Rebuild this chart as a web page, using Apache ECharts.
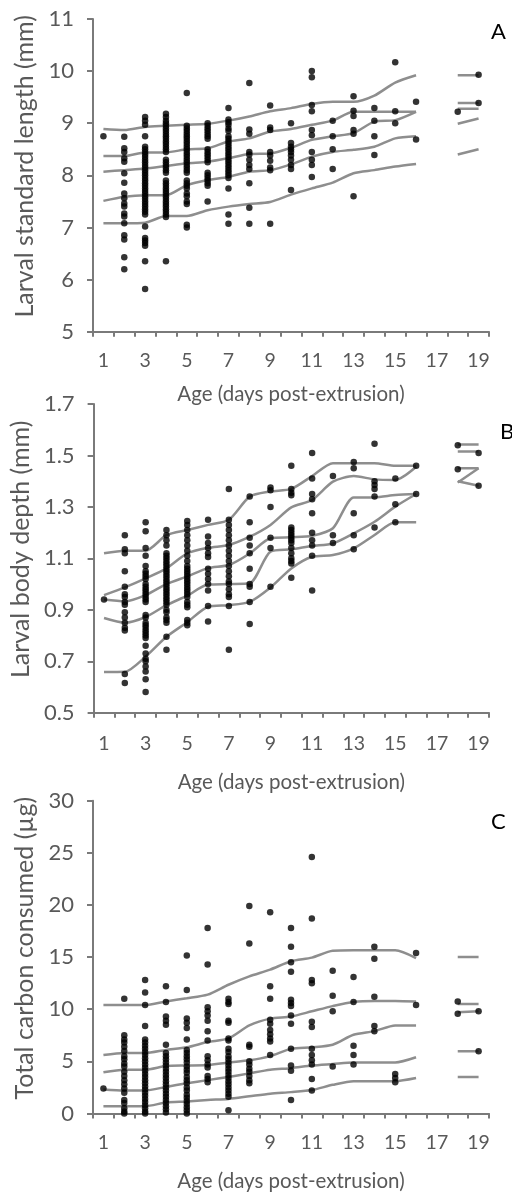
<!DOCTYPE html>
<html>
<head>
<meta charset="utf-8">
<script src="https://cdn.jsdelivr.net/npm/echarts@6/dist/echarts.min.js"></script>
<style>
html,body{margin:0;padding:0;background:#fff;}
#chart{width:512px;height:1197px;}
</style>
</head>
<body>
<div id="chart"></div>
<script>
// Category axis (age in days post-extrusion)
const ageCats = ['1','2','3','4','5','6','7','8','9','10','11','12','13','14','15','16','17','18','19'];
const xTitle = 'Age (days post-extrusion)';

// ---------- Panel A: Larval standard length (mm) ----------
const aTicks = {min: 5, max: 11, interval: 1};
const aQ95 = [8.89, 8.87, 8.93, 8.95, 8.97, 8.99, 9.05, 9.13, 9.23, 9.29, 9.37, 9.41, 9.41, 9.53, 9.78, 9.92];
const aQ75 = [8.37, 8.37, 8.44, 8.44, 8.50, 8.52, 8.65, 8.71, 8.84, 8.89, 8.97, 9.05, 9.22, 9.22, 9.22, 9.22];
const aQ50 = [8.07, 8.10, 8.13, 8.18, 8.23, 8.26, 8.33, 8.41, 8.42, 8.53, 8.68, 8.75, 8.81, 9.03, 9.06, 9.22];
const aQ25 = [7.51, 7.59, 7.62, 7.62, 7.81, 7.91, 7.97, 8.07, 8.10, 8.21, 8.36, 8.45, 8.49, 8.55, 8.71, 8.75];
const aQ05 = [7.08, 7.08, 7.09, 7.22, 7.22, 7.33, 7.40, 7.45, 7.49, 7.63, 7.75, 7.86, 8.04, 8.10, 8.17, 8.22];
const aTails = [[9.92, 9.92], [9.39, 9.39], [9.28, 9.28], [8.99, 9.09], [8.40, 8.50]];
const aDots = [
  [8.75],
  [8.74, 8.52, 8.45, 8.33, 8.26, 8.04, 7.86, 7.65, 7.56, 7.46, 7.40, 7.27, 7.21, 7.08, 6.85, 6.77, 6.43, 6.20],
  [9.12, 9.05, 8.97, 8.75, 8.55, 8.5, 8.45, 8.4, 8.35, 8.3, 8.25, 8.2, 8.15, 8.1, 8.05, 8.0, 7.95, 7.9, 7.85, 7.8, 7.75, 7.7, 7.65, 7.6, 7.55, 7.5, 7.45, 7.4, 7.35, 7.3, 7.25, 7.02, 6.8, 6.75, 6.7, 6.65, 6.35, 5.82],
  [9.18, 9.12, 9.05, 9.0, 8.95, 8.9, 8.85, 8.8, 8.75, 8.7, 8.65, 8.6, 8.55, 8.5, 8.45, 8.3, 8.25, 8.2, 8.15, 8.1, 8.05, 7.9, 7.85, 7.8, 7.75, 7.7, 7.65, 7.6, 7.55, 7.5, 7.45, 7.4, 7.35, 7.3, 7.25, 7.2, 6.35],
  [9.58, 8.95, 8.9, 8.85, 8.8, 8.75, 8.7, 8.65, 8.6, 8.55, 8.5, 8.45, 8.4, 8.35, 8.3, 8.25, 8.2, 8.15, 8.1, 8.05, 7.9, 7.85, 7.8, 7.75, 7.65, 7.6, 7.5, 7.45, 7.05, 7.0],
  [9.0, 8.95, 8.9, 8.85, 8.8, 8.75, 8.7, 8.5, 8.45, 8.4, 8.35, 8.3, 8.25, 8.05, 8.0, 7.95, 7.9, 7.85, 7.8, 7.5],
  [9.29, 9.07, 9.02, 8.97, 8.9, 8.85, 8.75, 8.7, 8.65, 8.6, 8.55, 8.5, 8.45, 8.4, 8.35, 8.3, 8.25, 8.2, 8.15, 8.1, 8.05, 8.0, 7.95, 7.75, 7.25, 7.07],
  [9.77, 8.88, 8.8, 8.45, 8.4, 8.3, 8.2, 8.12, 7.85, 7.38, 7.07],
  [9.34, 8.92, 8.87, 8.45, 8.38, 8.28, 8.15, 8.1, 7.07],
  [9.0, 8.62, 8.55, 8.5, 8.45, 8.38, 8.3, 8.2, 8.12, 7.72],
  [10.0, 9.88, 9.35, 9.23, 8.87, 8.77, 8.45, 8.3, 8.2, 7.97],
  [9.05, 8.75, 8.5, 8.12],
  [9.52, 9.24, 9.14, 8.87, 8.8, 7.6],
  [9.29, 9.05, 8.75, 8.39],
  [10.17, 9.23, 9.0],
  [9.41, 8.69],
  [],
  [9.22],
  [9.93, 9.39]
];

// ---------- Panel B: Larval body depth (mm) ----------
const bTicks = {min: 0.5, max: 1.7, interval: 0.2};
const bQ95 = [1.12, 1.13, 1.13, 1.19, 1.21, 1.23, 1.25, 1.34, 1.36, 1.37, 1.42, 1.47, 1.47, 1.47, 1.46, 1.46];
const bQ75 = [0.957, 0.987, 1.022, 1.061, 1.119, 1.141, 1.152, 1.184, 1.23, 1.298, 1.327, 1.398, 1.42, 1.407, 1.405, 1.456];
const bQ50 = [0.94, 0.933, 0.957, 1.0, 1.03, 1.062, 1.074, 1.119, 1.178, 1.182, 1.188, 1.217, 1.337, 1.337, 1.346, 1.35];
const bQ25 = [0.868, 0.85, 0.872, 0.918, 0.955, 0.998, 1.0, 1.003, 1.126, 1.135, 1.148, 1.158, 1.197, 1.242, 1.301, 1.35];
const bQ05 = [0.658, 0.659, 0.718, 0.795, 0.852, 0.912, 0.918, 0.931, 0.987, 1.061, 1.106, 1.113, 1.139, 1.191, 1.24, 1.24];
const bTails = [[1.543, 1.543], [1.515, 1.515], [1.45, 1.45], [1.395, 1.45], [1.40, 1.382]];
const bDots = [
  [0.94],
  [1.19, 1.135, 1.12, 1.05, 0.99, 0.96, 0.95, 0.93, 0.92, 0.89, 0.87, 0.85, 0.83, 0.82, 0.65, 0.615],
  [1.24, 1.205, 1.14, 1.11, 1.07, 1.05, 1.04, 1.03, 1.02, 1.0, 0.99, 0.98, 0.97, 0.96, 0.95, 0.94, 0.93, 0.88, 0.87, 0.85, 0.84, 0.83, 0.82, 0.81, 0.8, 0.79, 0.76, 0.73, 0.71, 0.7, 0.68, 0.66, 0.63, 0.58],
  [1.21, 1.19, 1.17, 1.15, 1.12, 1.11, 1.1, 1.09, 1.08, 1.07, 1.06, 1.05, 1.04, 1.03, 1.02, 1.01, 1.0, 0.99, 0.98, 0.97, 0.96, 0.95, 0.94, 0.93, 0.92, 0.9, 0.89, 0.87, 0.86, 0.85, 0.795, 0.745],
  [1.245, 1.23, 1.21, 1.19, 1.17, 1.15, 1.13, 1.11, 1.09, 1.07, 1.06, 1.05, 1.04, 1.03, 1.02, 1.01, 1.0, 0.99, 0.98, 0.97, 0.96, 0.95, 0.93, 0.92, 0.91, 0.86, 0.85, 0.84],
  [1.25, 1.185, 1.16, 1.14, 1.12, 1.105, 1.06, 1.04, 1.02, 1.0, 0.975, 0.915, 0.855],
  [1.37, 1.25, 1.23, 1.21, 1.19, 1.17, 1.15, 1.13, 1.11, 1.09, 1.07, 1.05, 1.03, 1.01, 1.0, 0.98, 0.96, 0.95, 0.915, 0.745],
  [1.34, 1.24, 1.18, 1.15, 1.12, 1.06, 1.0, 0.99, 0.93, 0.845],
  [1.375, 1.365, 1.30, 1.18, 1.14, 0.99],
  [1.46, 1.37, 1.355, 1.345, 1.22, 1.21, 1.2, 1.19, 1.18, 1.17, 1.16, 1.14, 1.12, 1.1, 1.09, 1.08, 1.025],
  [1.51, 1.41, 1.35, 1.33, 1.275, 1.2, 1.17, 1.15, 1.11, 0.975],
  [1.42, 1.19, 1.16],
  [1.475, 1.45, 1.275, 1.19, 1.135],
  [1.545, 1.40, 1.385, 1.37, 1.34, 1.22],
  [1.41, 1.31, 1.24],
  [1.46, 1.35],
  [],
  [1.54, 1.446],
  [1.51, 1.382]
];

// ---------- Panel C: Total carbon consumed (µg) ----------
const cTicks = {min: 0, max: 30, interval: 5};
const cQ95 = [10.4, 10.4, 10.4, 10.75, 11.05, 11.4, 12.35, 13.15, 13.8, 14.6, 14.95, 15.6, 15.65, 15.65, 15.65, 14.9];
const cQ75 = [5.6, 5.8, 5.8, 6.1, 6.35, 6.85, 7.2, 8.45, 9.1, 9.3, 9.8, 10.3, 10.7, 10.8, 10.8, 10.75];
const cQ50 = [3.95, 4.2, 4.2, 4.55, 4.6, 4.65, 4.9, 5.1, 5.5, 6.2, 6.35, 6.6, 7.55, 7.9, 8.45, 8.45];
const cQ25 = [2.3, 2.2, 2.2, 2.55, 2.9, 3.2, 3.5, 3.85, 4.2, 4.35, 4.6, 4.75, 4.9, 4.9, 4.9, 5.4];
const cQ05 = [0.7, 0.7, 0.7, 1.05, 1.15, 1.3, 1.4, 1.65, 1.9, 2.05, 2.25, 2.75, 3.1, 3.1, 3.1, 3.4];
const cTails = [[15.0, 15.0], [10.5, 10.5], [9.7, 9.8], [5.96, 5.96], [3.5, 3.5]];
const cDots = [
  [2.4],
  [11.0, 7.5, 7.1, 6.8, 6.4, 6.0, 5.5, 5.2, 4.8, 4.5, 4.0, 3.6, 3.2, 2.8, 2.4, 2.0, 1.3, 1.0, 0.5, 0.2, 0.0],
  [12.8, 11.6, 10.4, 8.4, 7.1, 6.8, 6.5, 6.2, 5.9, 5.6, 5.3, 5.0, 4.7, 4.4, 4.1, 3.8, 3.5, 3.2, 2.9, 2.6, 2.3, 2.0, 1.7, 1.4, 1.1, 0.8, 0.5, 0.2, 0.0],
  [12.2, 10.7, 9.3, 8.9, 8.5, 6.6, 5.8, 5.5, 5.2, 4.9, 4.6, 4.3, 4.0, 3.7, 3.4, 3.1, 2.8, 2.5, 2.2, 1.9, 1.6, 1.3, 1.0, 0.7, 0.4, 0.1],
  [15.15, 11.85, 9.1, 8.7, 8.2, 7.1, 6.1, 5.8, 5.5, 5.2, 4.9, 4.5, 4.2, 3.9, 3.5, 3.2, 2.9, 2.5, 2.2, 1.8, 1.5, 1.2, 0.9, 0.6, 0.3, 0.0],
  [17.8, 14.3, 10.2, 9.8, 9.4, 8.9, 7.9, 7.0, 5.5, 5.1, 4.7, 4.4, 3.6, 3.3, 3.0],
  [11.0, 10.7, 10.5, 8.9, 8.7, 7.2, 7.0, 6.2, 5.9, 5.5, 5.2, 4.9, 4.6, 4.3, 4.0, 3.7, 3.4, 3.1, 2.8, 2.5, 2.2, 1.9, 1.6, 0.3],
  [19.9, 16.3, 6.6, 6.4, 5.0, 4.7, 4.3, 4.0, 3.6, 3.2, 2.9],
  [19.3, 12.2, 11.0, 9.0, 8.6, 8.0, 7.6, 7.2, 6.9, 5.6],
  [17.8, 16.0, 14.5, 13.6, 10.9, 10.6, 10.3, 9.4, 8.6, 6.2, 4.6, 4.1, 1.3],
  [24.6, 18.7, 12.8, 12.5, 8.8, 8.3, 6.2, 5.6, 5.1, 4.7, 3.3, 2.2],
  [13.7, 11.3, 9.8, 4.5],
  [13.1, 10.7, 6.5, 5.6, 4.7],
  [16.0, 14.85, 11.2, 8.4, 7.9],
  [3.8, 3.4, 3.0],
  [15.4, 10.4],
  [],
  [10.75, 9.57],
  [9.8, 5.96]
];

// ---------- Build chart ----------
const FONT = 'Lato';
const AXIS_COLOR = '#7a7a7a';
const TEXT_COLOR = '#595959';
const LINE_COLOR = '#8e8e8e';

const panels = [
  {name: 'Larval standard length (mm)', ticks: aTicks, q: [aQ95, aQ75, aQ50, aQ25, aQ05], tails: aTails, dots: aDots,
   grid: {left: 93, top: 19, width: 396, height: 312.7}, labelMargin: 19, nameGap: 52, dec: 0},
  {name: 'Larval body depth (mm)', ticks: bTicks, q: [bQ95, bQ75, bQ50, bQ25, bQ05], tails: bTails, dots: bDots,
   grid: {left: 93, top: 404, width: 396, height: 308.7}, labelMargin: 21, nameGap: 59, dec: 1},
  {name: 'Total carbon consumed (µg)', ticks: cTicks, q: [cQ95, cQ75, cQ50, cQ25, cQ05], tails: cTails, dots: cDots,
   grid: {left: 93, top: 800.7, width: 396, height: 312.8}, labelMargin: 19, nameGap: 57, dec: 0}
];

const grids = [], xAxes = [], yAxes = [], series = [];
panels.forEach((p, gi) => {
  grids.push(Object.assign({containLabel: false}, p.grid));
  xAxes.push({
    type: 'category', gridIndex: gi, data: ageCats, boundaryGap: true,
    axisLine: {show: true, lineStyle: {color: AXIS_COLOR, width: 2}},
    axisTick: {show: true, interval: 0, length: 5, lineStyle: {color: AXIS_COLOR, width: 2}},
    axisLabel: {interval: 1, color: TEXT_COLOR, fontSize: 19.5, fontFamily: FONT, margin: p.labelMargin},
    splitLine: {show: false},
    name: xTitle, nameLocation: 'middle', nameGap: p.nameGap,
    nameTextStyle: {color: TEXT_COLOR, fontSize: 20.5, fontFamily: FONT}
  });
  yAxes.push({
    type: 'value', gridIndex: gi, min: p.ticks.min, max: p.ticks.max, interval: p.ticks.interval,
    axisLine: {show: true, lineStyle: {color: AXIS_COLOR, width: 2}},
    axisTick: {show: true, length: 6, lineStyle: {color: AXIS_COLOR, width: 2}},
    axisLabel: {color: TEXT_COLOR, fontSize: 22, fontFamily: FONT, margin: 19,
      formatter: v => (+v).toFixed(p.dec)},
    splitLine: {show: false},
    name: p.name, nameLocation: 'middle', nameGap: 46,
    nameTextStyle: {color: TEXT_COLOR, fontSize: 25, fontFamily: FONT, padding: [0, 0, 0, 18]}
  });
  p.q.forEach(arr => {
    series.push({
      type: 'line', xAxisIndex: gi, yAxisIndex: gi, symbol: 'none', smooth: 0.25,
      lineStyle: {color: LINE_COLOR, width: 2.5}, z: 2,
      data: arr.map((v, i) => [i, v])
    });
  });
  p.tails.forEach(t => {
    series.push({
      type: 'line', xAxisIndex: gi, yAxisIndex: gi, symbol: 'none',
      lineStyle: {color: LINE_COLOR, width: 2.5}, z: 2,
      data: [[17, t[0]], [18, t[1]]]
    });
  });
  const pts = [];
  p.dots.forEach((vals, i) => vals.forEach(v => pts.push([i, v])));
  series.push({
    type: 'scatter', xAxisIndex: gi, yAxisIndex: gi, symbol: 'circle', symbolSize: 6.5,
    itemStyle: {color: '#000'}, z: 3, data: pts
  });
});

const chart = echarts.init(document.getElementById('chart'), null, {renderer: 'canvas'});
chart.setOption({
  animation: false,
  backgroundColor: '#fff',
  grid: grids, xAxis: xAxes, yAxis: yAxes, series: series,
  graphic: [
    {type: 'text', left: 491, top: 21, style: {text: 'A', fill: '#000', font: '22px Lato'}},
    {type: 'text', left: 500, top: 421, style: {text: 'B', fill: '#000', font: '22px Lato'}},
    {type: 'text', left: 491, top: 811, style: {text: 'C', fill: '#000', font: '22px Lato'}}
  ]
});
</script>
</body>
</html>
